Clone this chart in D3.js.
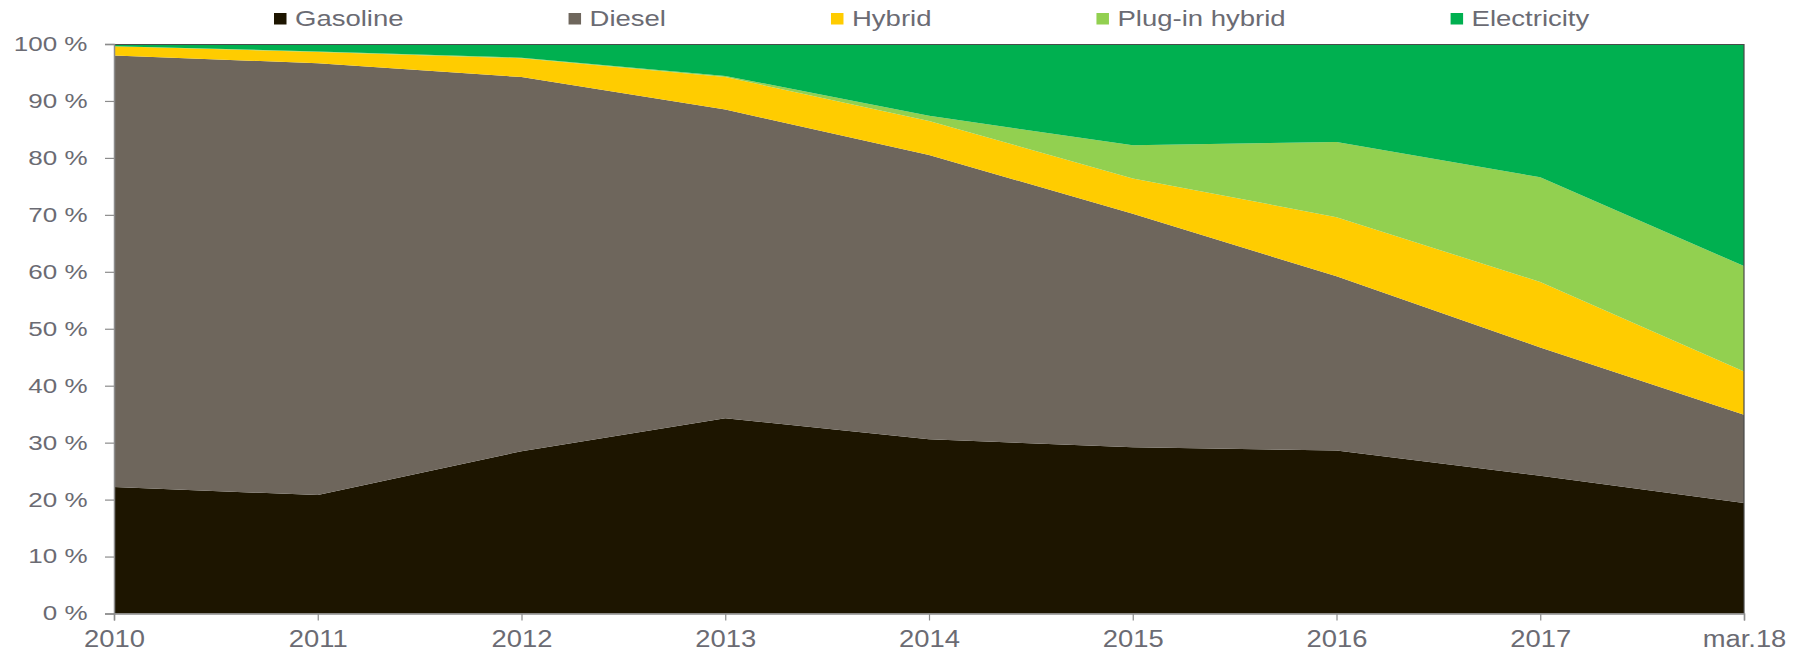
<!DOCTYPE html>
<html>
<head>
<meta charset="utf-8">
<script src="https://cdn.jsdelivr.net/npm/d3@7"></script>
<style>
    body { margin: 0; background: #fff; }
    text { font-family: "Liberation Sans", Arial, sans-serif; fill: #6b6b73; }
</style>
</head>
<body>
<script>
// categories on the x axis
var years = ["2010", "2011", "2012", "2013", "2014", "2015", "2016", "2017", "mar.18"];
var seriesNames = ["Gasoline", "Diesel", "Hybrid", "Plug-in hybrid", "Electricity"];
var seriesColors = ["#1d1500", "#6e665c", "#ffcc00", "#92d050", "#00b050"];

// share of new cars, %
var gasoline    = [22.2, 20.8, 28.5, 34.3, 30.6, 29.2, 28.6, 24.2, 19.4];
var diesel      = [75.8, 75.8, 65.7, 54.2, 49.9, 41.0, 30.6, 22.5, 15.5];
var hybrid      = [1.6, 2.0, 3.3, 5.7, 6.0, 6.2, 10.4, 11.5, 7.6];
var plugin      = [0.0, 0.1, 0.1, 0.2, 0.9, 5.8, 13.2, 18.4, 18.5];
var electricity = [0.4, 1.3, 2.4, 5.6, 12.6, 17.8, 17.2, 23.4, 39.0];

var yTicks = [0, 10, 20, 30, 40, 50, 60, 70, 80, 90, 100];

var W = 1804, H = 651;
var margin = {top: 44, right: 60, bottom: 37.5, left: 114};
var width = W - margin.left - margin.right,
    height = H - margin.top - margin.bottom;

var rows = years.map(function(y, i) {
    return {year: y, Gasoline: gasoline[i], Diesel: diesel[i], Hybrid: hybrid[i],
        "Plug-in hybrid": plugin[i], Electricity: electricity[i]};
});

var layers = d3.stack().keys(seriesNames)(rows);

var x = d3.scalePoint().domain(years).range([0, width]);
var y = d3.scaleLinear().domain([0, 100]).range([height, 0]);
var color = d3.scaleOrdinal().domain(seriesNames).range(seriesColors);

// the source text is drawn a bit wider than Arial, stretch it
function stretch(sel, k) {
    sel.each(function() {
        var len = this.getComputedTextLength();
        d3.select(this).attr("textLength", len * k).attr("lengthAdjust", "spacingAndGlyphs");
    });
}

var svg = d3.select("body").append("svg")
    .attr("width", W)
    .attr("height", H);

var g = svg.append("g")
    .attr("transform", "translate(" + margin.left + "," + margin.top + ")");

var area = d3.area()
    .x(function(d) { return x(d.data.year); })
    .y0(function(d) { return y(d[0]); })
    .y1(function(d) { return y(d[1]); });

g.selectAll(".layer")
    .data(layers)
    .enter().append("path")
    .attr("class", "layer")
    .attr("fill", function(d) { return color(d.key); })
    .attr("d", area);

// plot area border on top and right
g.append("path")
    .attr("d", "M0,0.5H" + width + "V" + height)
    .attr("fill", "none")
    .attr("stroke", "#4a4a4a")
    .attr("stroke-width", 1.2);

var yAxis = g.append("g")
    .call(d3.axisLeft(y).tickValues(yTicks).tickSize(9).tickPadding(17.5)
        .tickFormat(function(d) { return d + " %"; }));
var xAxis = g.append("g")
    .attr("transform", "translate(0," + height + ")")
    .call(d3.axisBottom(x).tickSize(7));

[yAxis, xAxis].forEach(function(ax) {
    ax.select(".domain").attr("stroke", "#8c8c8c").attr("stroke-width", 1.5);
    ax.selectAll(".tick line").attr("stroke", "#8c8c8c").attr("stroke-width", 1.2);
    ax.selectAll(".tick text")
        .attr("fill", "#6b6b73")
        .style("font-family", "'Liberation Sans', Arial, sans-serif");
});

yAxis.selectAll(".tick text").style("font-size", "20px").call(stretch, 1.3);
xAxis.selectAll(".tick text")
    .style("font-size", "23px")
    .attr("y", 33.5).attr("dy", 0)
    .call(stretch, 1.19);

// legend
var legend = svg.append("g").attr("transform", "translate(274,0)");
var lx = 0;
seriesNames.forEach(function(name) {
    var item = legend.append("g").attr("transform", "translate(" + lx + ",0)");
    item.append("rect")
        .attr("x", 0).attr("y", 13)
        .attr("width", 12.5).attr("height", 11.5)
        .attr("fill", color(name));
    var t = item.append("text")
        .attr("x", 21).attr("y", 25.7)
        .style("font-size", "22px")
        .text(name);
    var w = t.node().getComputedTextLength() * 1.25;
    t.attr("textLength", w).attr("lengthAdjust", "spacingAndGlyphs");
    lx += 21 + w + 165;
});
</script>
</body>
</html>
